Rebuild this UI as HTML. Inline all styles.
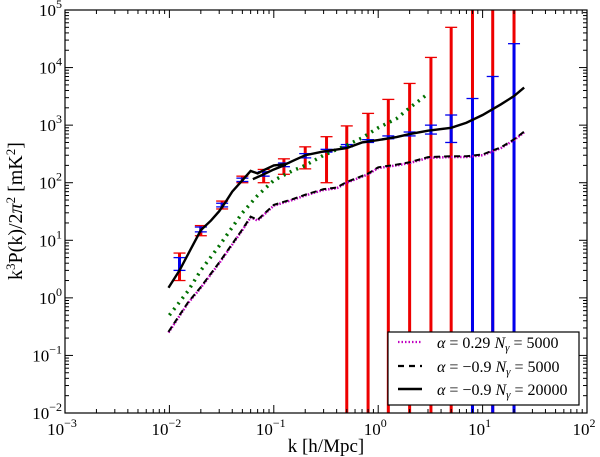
<!DOCTYPE html>
<html><head><meta charset="utf-8"><style>
html,body{margin:0;padding:0;background:#fff;}
svg{display:block;font-family:"Liberation Serif",serif;}
</style></head><body>
<svg id="chart" width="600" height="457" viewBox="0 0 600 457">
<rect x="0" y="0" width="600" height="457" fill="#fff"/>
<g id="marks"></g>
<g id="axes"></g>
<text x="326" y="452" font-size="19" text-anchor="middle">k [h/Mpc]</text>
<text transform="translate(22,211) rotate(-90)" font-size="20" text-anchor="middle">k<tspan dy="-7" font-size="13">3</tspan><tspan dy="7">P(k)/2</tspan><tspan font-style="italic">π</tspan><tspan dy="-7" font-size="13">2</tspan><tspan dy="7"> [mK</tspan><tspan dy="-7" font-size="13">2</tspan><tspan dy="7">]</tspan></text>
<g>
<rect x="388" y="332" width="191" height="73" fill="#fff" stroke="#000" stroke-width="1.2"/>
<line x1="398" y1="342" x2="422" y2="342" stroke="#c000c0" stroke-width="2.2" stroke-dasharray="1.5 2"/>
<text x="437" y="348" font-size="16"><tspan font-style="italic">α</tspan> = 0.29 <tspan font-style="italic">N</tspan><tspan font-size="11" dy="3" font-style="italic">γ</tspan><tspan dy="-3"> = 5000</tspan></text>
<line x1="398" y1="366" x2="422" y2="366" stroke="#000" stroke-width="2.2" stroke-dasharray="6 5"/>
<text x="437" y="372" font-size="16"><tspan font-style="italic">α</tspan> = −0.9 <tspan font-style="italic">N</tspan><tspan font-size="11" dy="3" font-style="italic">γ</tspan><tspan dy="-3"> = 5000</tspan></text>
<line x1="398" y1="389" x2="422" y2="389" stroke="#000" stroke-width="2.4"/>
<text x="437" y="395" font-size="16"><tspan font-style="italic">α</tspan> = −0.9 <tspan font-style="italic">N</tspan><tspan font-size="11" dy="3" font-style="italic">γ</tspan><tspan dy="-3"> = 20000</tspan></text>
</g>
</svg>
<script>
const solidK=[0.0098,0.0125,0.016,0.02,0.025,0.03,0.035,0.04,0.05,0.06,0.07,0.08,0.1,0.13,0.16,0.2,0.3,0.5,0.7,1,1.5,2,3,5,7,10,15,20,25];
const solidV=[1.5,3,7,15,22,32,48,70,110,160,145,165,200,210,250,300,350,400,500,550,620,700,800,900,1100,1500,2300,3200,4500];
const solid2K=[0.063,0.08,0.1,0.13];
const solid2V=[115,140,170,205];
const greenK=[0.01,0.015,0.02,0.03,0.05,0.07,0.1,0.15,0.2,0.3,0.5,0.7,1,1.5,2,3];
const greenV=[0.5,1.3,3,8,30,60,110,160,200,300,450,600,900,1300,2000,3500];
const dashK=[0.0098,0.015,0.02,0.03,0.05,0.06,0.07,0.1,0.15,0.2,0.3,0.4,0.5,0.8,1,1.5,2,3,5,7,10,15,20,25];
const dashV=[0.25,0.8,1.5,4,15,25,22,40,50,60,75,80,100,140,180,200,220,270,280,280,300,400,550,750];
const redK=[0.0125,0.02,0.032,0.05,0.08,0.125,0.2,0.32,0.5,0.8,1.25,2,3.2,5,8,12.5,20];
const redLo=[2,12,35,100,100,140,174,100,0.01,0.01,0.01,0.01,0.01,0.01,0.01,0.01,0.01];
const redHi=[6,18,48,130,170,260,420,630,970,1600,2800,5300,15000,50000,1e6,1e6,1e6];
const blueK=[0.0125,0.02,0.032,0.05,0.08,0.125,0.2,0.32,0.5,0.8,1.25,2,3.2,5,8,12.5,20];
const blueLo=[3,14,38,105,130,190,270,340,420,500,580,650,700,500,0.01,0.01,0.01];
const blueHi=[5,17,44,120,155,220,320,380,460,560,650,760,1000,1500,2900,7000,26000];
const xTicks=[-3,-2,-1,0,1,2];
const yTicks=[-2,-1,0,1,2,3,4,5];
const L=65,R=587,T=10,B=413;
const X=k=>L+(Math.log10(k)+3)/5*(R-L);
const Y=v=>{let y=T+(5-Math.log10(v))/7*(B-T);return Math.max(T,Math.min(B,y));};
const NS="http://www.w3.org/2000/svg";
const marks=document.getElementById('marks'),axes=document.getElementById('axes');
function mk(tag,attrs,parent){const e=document.createElementNS(NS,tag);for(const a in attrs)e.setAttribute(a,attrs[a]);parent.appendChild(e);return e;}
function poly(K,V,style,name){const p=mk('polyline',Object.assign({points:K.map((k,i)=>X(k)+','+Y(V[i])).join(' '),fill:'none'},style),marks);

}
function bars(K,lo,hi,color,w,cap,name){K.forEach((k,i)=>{const g=mk('g',{},marks);


const x=X(k),y1=Y(hi[i]),y2=Y(lo[i]);
mk('line',{x1:x,x2:x,y1:y1,y2:y2,stroke:color,'stroke-width':w},g);
if(hi[i]<1e5)mk('line',{x1:x-cap,x2:x+cap,y1:y1,y2:y1,stroke:color,'stroke-width':1.3},g);
if(lo[i]>0.02)mk('line',{x1:x-cap,x2:x+cap,y1:y2,y2:y2,stroke:color,'stroke-width':1.3},g);});}
bars(redK,redLo,redHi,'#ee0000',3,6,'red-error-bar');
bars(blueK,blueLo,blueHi,'#0000ee',3,6,'blue-error-bar');
poly(greenK,greenV,{stroke:'#007000','stroke-width':3.5,'stroke-dasharray':'2 5'},'green-dotted-line');
poly(dashK,dashV,{stroke:'#c000c0','stroke-width':2.5,'stroke-dasharray':'1.5 1.5'},'magenta-alpha029-line');
poly(dashK,dashV.map(v=>v*1.03),{stroke:'#000','stroke-width':2,'stroke-dasharray':'6 4'},'dashed-alpha09-5000-line');
poly(solidK,solidV,{stroke:'#000','stroke-width':2.4},'solid-alpha09-20000-line');
poly(solid2K,solid2V,{stroke:'#000','stroke-width':2.4},'solid-secondary-segment');
mk('rect',{x:L,y:T,width:R-L,height:B-T,fill:'none',stroke:'#000','stroke-width':1.2},axes);
xTicks.forEach((e,i)=>{const x=L+i*(R-L)/5;
[B,T].forEach(y0=>{const d=y0===B?-1:1;mk('line',{x1:x,x2:x,y1:y0,y2:y0+d*8,stroke:'#000'},axes);
if(i<5)for(let m=2;m<10;m++){const xm=x+Math.log10(m)*(R-L)/5;mk('line',{x1:xm,x2:xm,y1:y0,y2:y0+d*4,stroke:'#000'},axes);}});
const t=mk('text',{x:x-3,y:B+22,'font-size':17,'text-anchor':'middle'},axes);


t.innerHTML='10<tspan dy="-8" font-size="12">'+(e<0?'−'+(-e):e)+'</tspan>';});
yTicks.forEach((e,i)=>{const y=B-i*(B-T)/7;
[L,R].forEach(x0=>{const d=x0===L?1:-1;mk('line',{x1:x0,x2:x0+d*8,y1:y,y2:y,stroke:'#000'},axes);
if(i<7)for(let m=2;m<10;m++){const ym=y-Math.log10(m)*(B-T)/7;mk('line',{x1:x0,x2:x0+d*4,y1:ym,y2:ym,stroke:'#000'},axes);}});
const t=mk('text',{x:L-3,y:y+6,'font-size':17,'text-anchor':'end'},axes);


t.innerHTML='10<tspan dy="-8" font-size="12">'+(e<0?'−'+(-e):e)+'</tspan>';});
</script>
</body></html>
